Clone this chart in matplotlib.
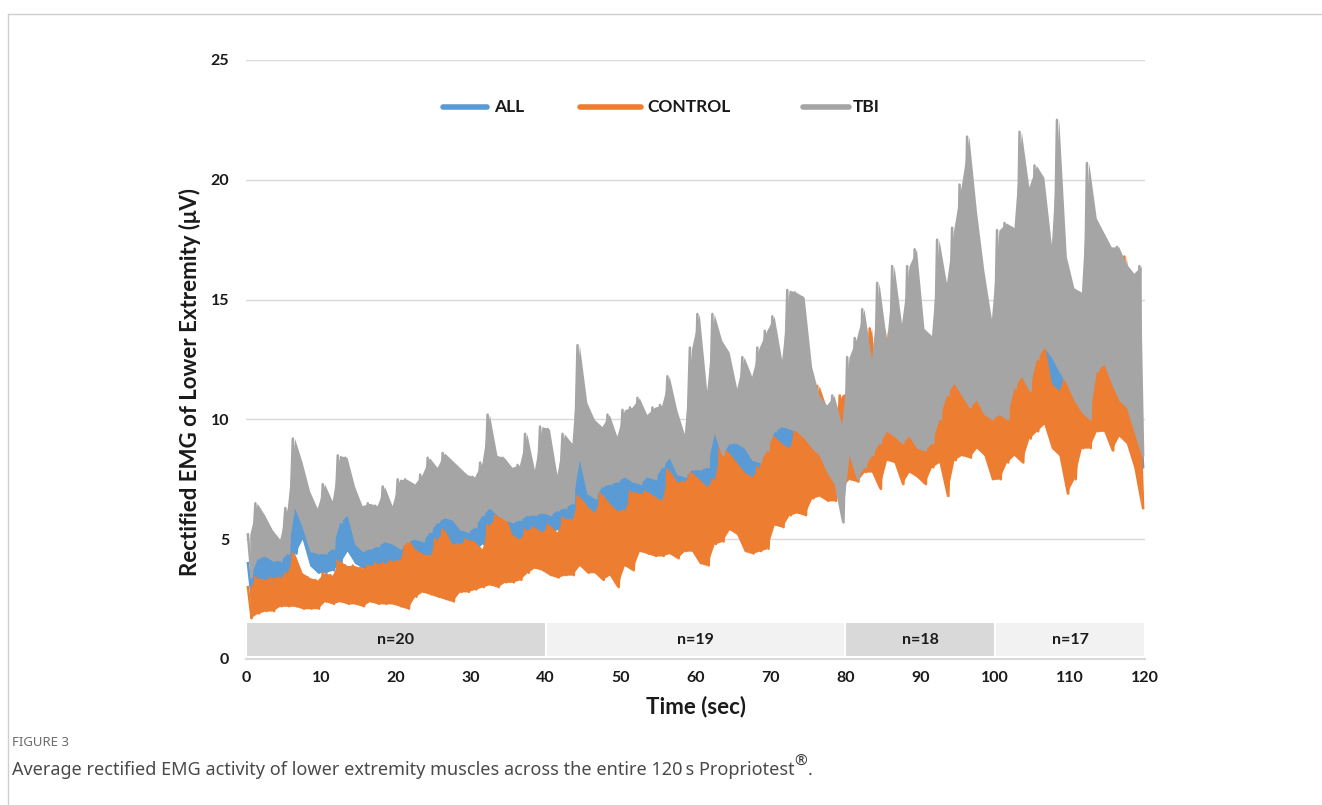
import numpy as np
import matplotlib
matplotlib.use("Agg")
import matplotlib.pyplot as plt
from matplotlib.lines import Line2D

# ---------------- data (per-second envelope) ----------------
seconds = np.arange(120)

TBI_hi = [5.2, 6.5, 6.0, 5.4, 5.0, 6.3, 9.2, 8.2, 7.0, 6.3, 7.3, 6.6, 8.5, 8.4, 7.2, 6.4, 6.5, 6.4, 7.2, 6.4,
          7.5, 7.5, 7.3, 7.7, 8.4, 8.0, 8.6, 8.3, 8.0, 7.7, 7.6, 8.2, 10.2, 8.5, 8.4, 8.0, 8.1, 9.4, 7.9, 9.7,
          9.6, 7.7, 9.4, 9.0, 13.1, 10.7, 10.0, 9.7, 10.2, 9.3, 10.4, 10.5, 10.9, 10.2, 10.5, 10.6, 11.8, 10.4, 9.4, 13.0,
          14.4, 11.2, 14.4, 13.3, 12.8, 11.3, 12.6, 11.8, 13.0, 13.7, 14.3, 12.5, 15.4, 15.3, 15.1, 12.2, 11.0, 10.6, 11.0, 9.8,
          12.6, 13.4, 14.6, 12.5, 15.7, 13.3, 16.4, 14.0, 16.4, 17.1, 13.8, 13.5, 17.5, 15.7, 18.0, 19.8, 21.8, 18.7, 16.2, 14.2,
          17.9, 18.2, 18.0, 22.0, 19.7, 20.6, 20.1, 17.3, 22.5, 16.8, 15.5, 15.3, 20.7, 18.4, 17.8, 17.2, 17.2, 16.5, 16.1, 16.4]
TBI_lo = [3.4, 4.2, 4.3, 4.1, 4.1, 4.4, 6.3, 5.5, 4.5, 4.4, 4.4, 4.6, 5.7, 6.0, 4.8, 4.5, 4.6, 4.7, 4.9, 4.8,
          4.6, 4.9, 5.0, 4.9, 5.3, 5.7, 5.9, 5.8, 5.4, 5.3, 5.5, 6.0, 6.3, 6.0, 5.8, 5.7, 5.8, 6.0, 6.0, 6.1,
          6.0, 6.2, 6.3, 6.5, 8.3, 6.9, 6.7, 7.2, 7.3, 7.4, 7.6, 7.4, 7.3, 7.6, 7.5, 8.0, 8.4, 7.7, 7.6, 7.9,
          7.9, 8.0, 9.4, 8.5, 9.0, 9.0, 8.8, 8.3, 8.2, 8.7, 9.5, 9.7, 9.6, 9.5, 9.2, 8.8, 8.5, 7.8, 7.3, 5.7,
          8.5, 7.5, 8.0, 8.5, 9.0, 9.5, 9.3, 9.0, 9.3, 8.8, 8.7, 9.0, 10.0, 11.0, 11.5, 11.0, 10.5, 10.8, 10.2, 10.0,
          10.2, 10.0, 11.3, 11.8, 11.2, 12.5, 13.0, 12.6, 12.0, 11.5, 10.8, 10.3, 10.0, 12.0, 12.3, 11.5, 10.8, 10.5, 9.5, 8.5]

ALL_hi = [4.0, 4.8, 5.0, 4.8, 4.7, 5.0, 7.0, 6.2, 5.5, 5.2, 5.2, 5.4, 6.3, 6.6, 5.6, 5.3, 5.4, 5.5, 5.6, 5.5,
          5.4, 5.6, 5.7, 5.7, 6.0, 6.4, 6.6, 6.5, 6.2, 6.1, 6.3, 6.7, 7.0, 6.8, 6.6, 6.5, 6.6, 6.8, 6.8, 6.9,
          6.8, 7.0, 7.1, 7.3, 9.0, 7.7, 7.5, 8.0, 8.1, 8.2, 8.4, 8.2, 8.1, 8.4, 8.3, 8.8, 9.2, 8.5, 8.4, 8.7,
          8.7, 8.8, 10.0, 9.3, 9.8, 9.8, 9.6, 9.1, 9.0, 9.5, 10.2, 10.4, 10.4, 10.3, 10.0, 9.6, 9.4, 8.8, 8.4, 8.0,
          10.5, 9.5, 10.0, 11.0, 11.0, 11.5, 11.3, 11.5, 11.0, 10.8, 10.5, 10.8, 11.5, 12.3, 12.5, 12.3, 11.8, 11.8, 11.2, 10.8,
          11.0, 12.0, 12.5, 13.0, 12.8, 13.5, 13.8, 13.0, 12.5, 12.2, 12.0, 11.0, 11.5, 13.0, 13.0, 12.3, 12.0, 12.0, 11.0, 10.8]
ALL_lo = [2.6, 3.0, 3.1, 3.2, 3.2, 3.4, 4.4, 5.0, 3.9, 3.6, 3.6, 3.7, 4.0, 4.5, 4.0, 3.8, 3.8, 3.8, 3.9, 4.0,
          3.8, 4.0, 4.2, 4.2, 4.3, 4.4, 4.6, 4.8, 4.5, 4.5, 4.5, 4.8, 5.0, 5.0, 5.0, 4.8, 4.9, 5.0, 5.0, 5.1,
          5.2, 5.4, 5.5, 5.6, 6.3, 6.0, 5.8, 6.2, 6.0, 5.5, 5.3, 6.0, 6.4, 6.5, 6.3, 6.6, 7.0, 6.8, 6.8, 7.0,
          6.8, 7.0, 7.3, 7.5, 7.5, 7.3, 7.4, 7.3, 7.2, 7.6, 8.5, 8.8, 8.5, 8.3, 8.0, 7.8, 7.5, 7.2, 7.0, 6.5,
          8.0, 7.8, 8.3, 8.5, 8.0, 9.0, 8.8, 8.5, 8.5, 8.3, 8.0, 8.5, 8.8, 8.0, 9.0, 9.2, 9.0, 9.3, 9.0, 8.5,
          8.5, 9.0, 9.3, 9.3, 9.8, 10.3, 10.5, 9.5, 9.3, 8.5, 8.5, 9.3, 9.5, 10.2, 10.2, 9.5, 9.8, 9.8, 9.0, 8.0]

CONTROL_hi = [3.0, 3.4, 3.3, 3.4, 3.4, 3.6, 4.4, 3.6, 3.4, 3.3, 3.6, 3.5, 4.1, 3.9, 3.9, 3.8, 3.9, 4.0, 4.0, 4.1,
              4.1, 5.1, 4.6, 4.4, 4.3, 5.0, 5.4, 4.8, 4.8, 5.0, 4.9, 4.6, 5.6, 6.0, 6.1, 5.2, 5.0, 5.4, 5.5, 5.3,
              5.6, 5.3, 5.9, 5.8, 6.8, 6.4, 6.1, 6.9, 6.5, 6.2, 6.2, 7.0, 6.9, 7.0, 6.8, 6.6, 7.9, 7.4, 7.4, 7.8,
              7.5, 7.2, 7.5, 8.9, 8.6, 8.2, 7.8, 7.6, 8.0, 9.4, 9.3, 9.0, 8.8, 9.8, 10.3, 10.0, 11.4, 10.5, 10.2, 11.0,
              11.2, 9.5, 12.5, 13.8, 10.5, 13.7, 10.8, 14.0, 10.5, 10.8, 10.2, 10.5, 11.2, 12.2, 12.0, 12.5, 11.5, 11.0, 10.5, 10.2,
              10.2, 12.8, 13.0, 16.0, 13.0, 13.6, 13.3, 11.5, 11.2, 12.0, 11.6, 10.6, 14.6, 13.8, 12.8, 12.3, 11.5, 16.8, 14.0, 11.0]
CONTROL_lo = [1.7, 1.9, 2.0, 2.0, 2.2, 2.2, 2.2, 2.1, 2.1, 2.1, 2.4, 2.3, 2.4, 2.3, 2.3, 2.2, 2.4, 2.3, 2.3, 2.3,
              2.2, 2.1, 2.6, 2.8, 2.7, 2.6, 2.5, 2.4, 2.8, 2.8, 2.9, 3.0, 3.1, 3.0, 3.2, 3.2, 3.3, 3.6, 3.8, 3.7,
              3.5, 3.4, 3.5, 3.5, 3.9, 3.6, 3.6, 3.3, 3.5, 3.0, 3.9, 3.7, 4.5, 4.4, 4.3, 4.3, 4.4, 4.2, 4.5, 4.5,
              4.0, 3.9, 4.8, 4.9, 5.4, 5.2, 4.5, 4.4, 4.5, 4.6, 5.6, 5.5, 6.0, 6.1, 6.0, 6.7, 6.8, 6.6, 6.6, 7.2,
              7.5, 7.4, 7.8, 7.8, 7.1, 8.3, 8.2, 7.3, 7.8, 7.6, 7.3, 8.0, 8.2, 6.8, 8.3, 8.5, 8.4, 8.8, 8.5, 7.5,
              7.5, 8.2, 8.5, 8.2, 9.2, 9.5, 9.8, 8.8, 8.5, 6.9, 7.5, 8.8, 8.8, 9.5, 9.5, 8.7, 9.3, 9.0, 8.0, 6.3]

series_names = ["ALL", "CONTROL", "TBI"]
series_colors = ["#5B9BD5", "#ED7D31", "#A5A5A5"]

n_labels = ["n=20", "n=19", "n=18", "n=17"]
n_start = [0, 40, 80, 100]
n_end = [40, 80, 100, 120]
n_colors = ["#D9D9D9", "#F2F2F2", "#D9D9D9", "#F2F2F2"]

x_ticks = list(range(0, 121, 10))
y_ticks = [0, 5, 10, 15, 20, 25]

# ---------------- figure ----------------
FONT = ["Lato", "DejaVu Sans"]
TXT = "#1a1a1a"

fig = plt.figure(figsize=(13.22, 8.05), dpi=100)
fig.patch.set_facecolor("white")
W, H = 1322, 805
ax = fig.add_axes([246 / W, 1 - 659 / H, 899 / W, 599 / H])

sec = np.asarray(seconds, dtype=float)

for (hi, lo), col in zip([(ALL_hi, ALL_lo), (CONTROL_hi, CONTROL_lo), (TBI_hi, TBI_lo)], series_colors):
    hi = np.asarray(hi)
    lo = np.asarray(lo)
    # band filled by the fast oscillation within each second
    ax.fill_between(sec + 0.5, lo, hi, color=col, lw=0, zorder=3)
    # the oscillating trace itself (peak then trough in each second)
    x = np.empty(2 * len(sec))
    y = np.empty(2 * len(sec))
    x[0::2], x[1::2] = sec + 0.25, sec + 0.75
    y[0::2], y[1::2] = hi, lo
    ax.plot(x, y, color=col, lw=1.8, solid_joinstyle="round", zorder=3)

# n= bands
for s, e, c, lab in zip(n_start, n_end, n_colors, n_labels):
    ax.bar(s, 1.46, width=e - s, bottom=0.08, align="edge", color=c,
           edgecolor="white", linewidth=1.5, zorder=2)
    ax.text((s + e) / 2, 0.81, lab, ha="center", va="center", fontsize=11.5,
            fontweight="bold", family=FONT, color=TXT, zorder=4)

ax.set_xlim(0, 120)
ax.set_ylim(0, 25)
ax.set_xticks(x_ticks)
ax.set_yticks(y_ticks)
ax.yaxis.grid(True, color="#D9D9D9", lw=1.0)
ax.set_axisbelow(True)
for sp in ["top", "right", "left"]:
    ax.spines[sp].set_visible(False)
ax.spines["bottom"].set_color("#D9D9D9")
ax.spines["bottom"].set_linewidth(1.5)
ax.tick_params(length=0)
ax.tick_params(axis="y", pad=12)
ax.tick_params(axis="x", pad=9)
for lbl in ax.get_xticklabels() + ax.get_yticklabels():
    lbl.set_fontfamily(FONT)
    lbl.set_fontweight("bold")
    lbl.set_fontsize(11.5)
    lbl.set_color(TXT)

ax.set_xlabel("Time (sec)", fontsize=16, fontweight="bold", family=FONT, color=TXT, labelpad=7)
fig.text(190 / W, 1 - 382 / H, "Rectified EMG of Lower Extremity (\u03bcV)", rotation=90,
         ha="center", va="center", fontsize=16, fontweight="bold", family=FONT, color=TXT)

# legend (manual layout)
leg_y = 0.9215
leg_items = [(0.2191, 0.2681, 0.2765), (0.3715, 0.4394, 0.4465), (0.6196, 0.6707, 0.6745)]
for name, col, (x0, x1, xt) in zip(series_names, series_colors, leg_items):
    ax.add_line(Line2D([x0, x1], [leg_y, leg_y], transform=ax.transAxes, color=col,
                       lw=4, solid_capstyle="round", clip_on=False))
    ax.text(xt, leg_y, name, transform=ax.transAxes, ha="left", va="center",
            fontsize=12.5, fontweight="bold", family=FONT, color=TXT)

# card border
fig.add_artist(Line2D([8 / W, 1.0], [1 - 14 / H, 1 - 14 / H], transform=fig.transFigure,
                      color="#CFCFCF", lw=1))
fig.add_artist(Line2D([8 / W, 8 / W], [0, 1 - 14 / H], transform=fig.transFigure,
                      color="#CFCFCF", lw=1))

# caption
CAPF = ["Noto Sans", "DejaVu Sans"]
fig.text(12 / W, 1 - 742 / H, "FIGURE 3", ha="left", va="center", fontsize=9.5,
         family=CAPF, color="#6b6b6b")
t1 = fig.text(12 / W, 1 - 770 / H,
              "Average rectified EMG activity of lower extremity muscles across the entire 120\u2009s Propriotest",
              ha="left", va="center", fontsize=13, family=CAPF, color="#4a4a4a")
a2 = plt.annotate("\u00ae", xy=(1.0, 0.5), xycoords=t1, ha="left", va="bottom",
                  fontsize=11, fontweight="bold", family=CAPF, color="#333333",
                  annotation_clip=False)
plt.annotate(".", xy=(1, 0), xycoords=(a2, t1), ha="left", va="bottom",
             fontsize=13, family=CAPF, color="#4a4a4a", annotation_clip=False)

fig.savefig("out.png", dpi=100)
